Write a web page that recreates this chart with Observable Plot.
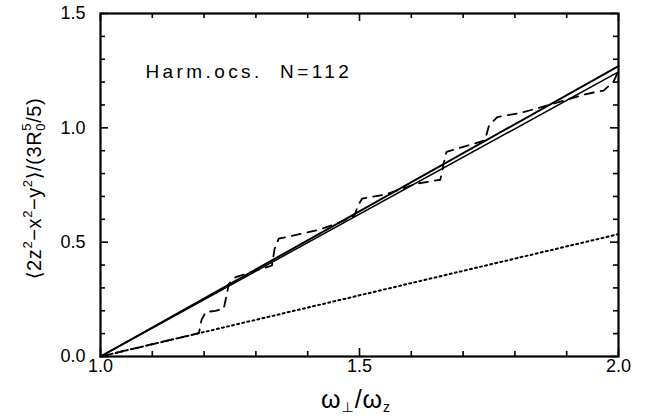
<!DOCTYPE html>
<html>
<head>
<meta charset="utf-8">
<script src="https://cdn.jsdelivr.net/npm/d3@7"></script>
<script src="https://cdn.jsdelivr.net/npm/@observablehq/plot@0.6"></script>
<style>
  html, body { margin: 0; padding: 0; background: white; }
  #chart svg { display: block; }
</style>
</head>
<body>
<div id="chart"></div>
<script>
// Frequency ratio ω⊥/ωz at the two ends of the straight curves
const lineX = [1.0, 2.0];
// Smooth (semiclassical) quadrupole moments
const solidUpper = [0.0, 1.27];
const solidLower = [0.0, 1.245];
// Lower dotted reference line
const dottedY = [0.0, 0.535];

// Shell-model (step-like) quadrupole moment for N = 112
const stepX = [1.0, 1.19, 1.195, 1.203, 1.222, 1.238, 1.248, 1.261, 1.331, 1.336, 1.344, 1.421, 1.46, 1.49, 1.497, 1.505, 1.553, 1.608, 1.656, 1.662, 1.668, 1.71, 1.742, 1.75, 1.766, 1.81, 1.843, 1.94, 1.971, 1.99, 2.0];
const stepY = [0.0, 0.102, 0.16, 0.194, 0.2, 0.21, 0.318, 0.347, 0.398, 0.47, 0.515, 0.554, 0.585, 0.615, 0.66, 0.69, 0.71, 0.755, 0.773, 0.84, 0.895, 0.923, 0.945, 1.01, 1.047, 1.065, 1.085, 1.149, 1.163, 1.2, 1.25];

// Axis ticks
const xMajor = [1.0, 1.5, 2.0];
const xMinor = [1.1, 1.2, 1.3, 1.4, 1.6, 1.7, 1.8, 1.9];
const yMajor = [0.0, 0.5, 1.0, 1.5];
const yMinor = [0.1, 0.2, 0.3, 0.4, 0.6, 0.7, 0.8, 0.9, 1.1, 1.2, 1.3, 1.4];

const annotation = "Harm.ocs.  N=112";

const W = 657, H = 420;
const M = {top: 13, right: 39, bottom: 64, left: 100};
const plotW = W - M.left - M.right;
const plotH = H - M.top - M.bottom;

const pts = (xs, ys) => xs.map((x, i) => ({x, y: ys[i]}));

// inward tick marks on all four sides
function ticksX(values, len) {
  return [
    Plot.tickX(values, {x: d => d, insetTop: plotH - len, stroke: "black", strokeWidth: 1.6}),
    Plot.tickX(values, {x: d => d, insetBottom: plotH - len, stroke: "black", strokeWidth: 1.6})
  ];
}
function ticksY(values, len) {
  return [
    Plot.tickY(values, {y: d => d, insetRight: plotW - len, stroke: "black", strokeWidth: 1.6}),
    Plot.tickY(values, {y: d => d, insetLeft: plotW - len, stroke: "black", strokeWidth: 1.6})
  ];
}

const chart = Plot.plot({
  width: W,
  height: H,
  marginTop: M.top,
  marginRight: M.right,
  marginBottom: M.bottom,
  marginLeft: M.left,
  style: {fontFamily: "'Liberation Sans', Arial, sans-serif", fontSize: "17px", background: "white", color: "black"},
  x: {domain: [1, 2]},
  y: {domain: [0, 1.5]},
  marks: [
    Plot.line(pts(lineX, dottedY), {x: "x", y: "y", stroke: "black", strokeWidth: 2, strokeDasharray: "2,3.2"}),
    Plot.line(pts(stepX, stepY), {x: "x", y: "y", stroke: "black", strokeWidth: 1.8, strokeDasharray: "9,7"}),
    Plot.line(pts(lineX, solidLower), {x: "x", y: "y", stroke: "black", strokeWidth: 1.5}),
    Plot.line(pts(lineX, solidUpper), {x: "x", y: "y", stroke: "black", strokeWidth: 2}),
    ...ticksX(xMinor, 5), ...ticksX(xMajor, 8),
    ...ticksY(yMinor, 5), ...ticksY(yMajor, 8),
    Plot.frame({stroke: "black", strokeWidth: 2.2}),
    Plot.axisX(xMajor, {tickSize: 0, tickPadding: 3, tickFormat: d => d.toFixed(1), fontSize: 18, label: null}),
    Plot.axisY(yMajor, {tickSize: 0, tickPadding: 15, tickFormat: d => d.toFixed(1), fontSize: 18, label: null}),
    Plot.text([annotation], {frameAnchor: "top-left", dx: 45, dy: 58, text: d => d, textAnchor: "start", lineAnchor: "middle", fontSize: 19, fill: "black"})
  ]
});

document.getElementById("chart").appendChild(chart);

const svg = d3.select(chart);
const font = "'Liberation Sans', 'DejaVu Sans', Arial, sans-serif";

// widen the annotation's letter spacing
svg.selectAll("text").filter(function () { return this.textContent === annotation; })
  .attr("letter-spacing", "3.4px")
  .attr("xml:space", "preserve")
  .style("white-space", "pre");

// Axis titles with sub/superscripts
const xt = svg.append("text")
  .attr("x", 356)
  .attr("y", 408)
  .attr("text-anchor", "middle")
  .attr("font-family", font)
  .attr("font-size", 25)
  .attr("letter-spacing", "1px")
  .attr("fill", "black");
xt.append("tspan").text("ω");
xt.append("tspan").attr("font-size", 14).attr("dy", 4).text("⊥");
xt.append("tspan").attr("dy", -4).text("/ω");
xt.append("tspan").attr("font-size", 14).attr("dy", 4).text("z");

const yt = svg.append("text")
  .attr("transform", `translate(41,${M.top + plotH / 2 + 4}) rotate(-90)`)
  .attr("text-anchor", "middle")
  .attr("font-family", font)
  .attr("font-size", 20)
  .attr("letter-spacing", "0.6px")
  .attr("fill", "black");
yt.append("tspan").text("⟨2z");
yt.append("tspan").attr("font-size", 13).attr("dy", -9).text("2");
yt.append("tspan").attr("dy", 9).text("−x");
yt.append("tspan").attr("font-size", 13).attr("dy", -9).text("2");
yt.append("tspan").attr("dy", 9).text("−y");
yt.append("tspan").attr("font-size", 13).attr("dy", -9).text("2");
yt.append("tspan").attr("dy", 9).text("⟩/(3R");
yt.append("tspan").attr("font-size", 13).attr("dy", 4).text("0");
yt.append("tspan").attr("font-size", 13).attr("dx", -7.8).attr("dy", -14).text("5");
yt.append("tspan").attr("dy", 10).text("/5)");
</script>
</body>
</html>
